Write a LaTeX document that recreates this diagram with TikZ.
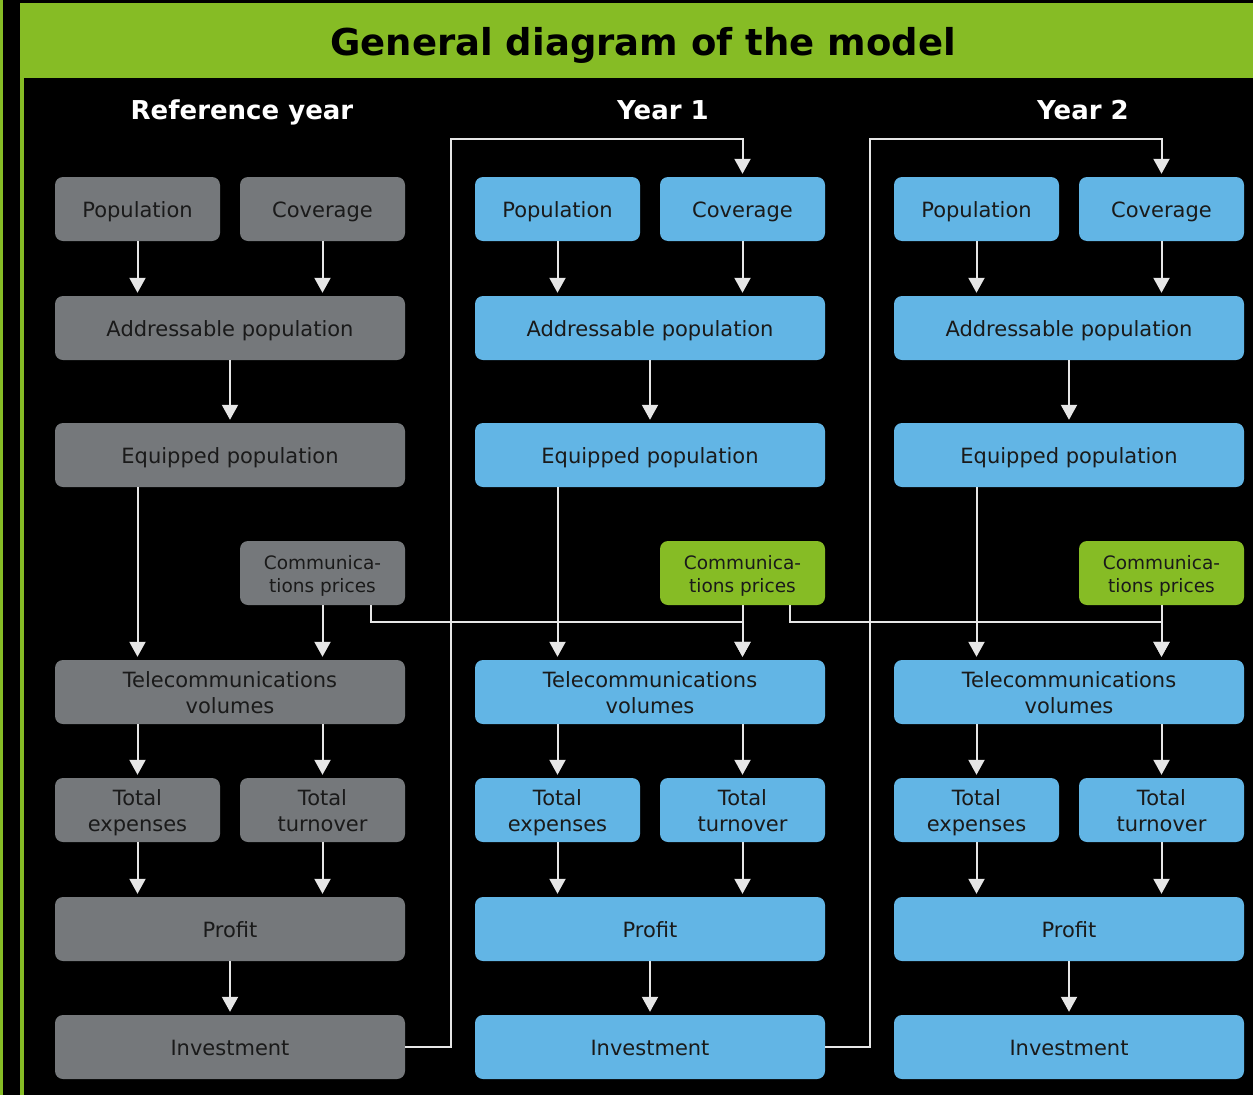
\documentclass[tikz,border=0pt]{standalone}
\usepackage{fontspec}
\setmainfont{DejaVu Sans}
\usetikzlibrary{arrows.meta,calc}
\definecolor{bggreen}{HTML}{86BC25}
\definecolor{boxgray}{HTML}{75787B}
\definecolor{boxblue}{HTML}{62B5E5}
\definecolor{linecol}{HTML}{E6E6E6}
\definecolor{txt}{HTML}{1A1A1A}
\newcommand\mystrutA{\rule[-6pt]{0pt}{29pt}}
\newcommand\topA{\rule{0pt}{22pt}}
\newcommand\botA{\rule[-6pt]{0pt}{6pt}}
\newcommand\topB{\rule{0pt}{21pt}}
\newcommand\botB{\rule[-5pt]{0pt}{5pt}}
\begin{document}
\begin{tikzpicture}[x=1pt,y=-1pt,
  box/.style={rounded corners=8pt, inner sep=0pt, align=center, text=txt,
    font=\fontsize{21}{26}\selectfont, minimum height=64pt,
    execute at begin node=\mystrutA, execute at end node=\mystrutA},
  twoline/.style={execute at begin node={}, execute at end node={}},
  smallbox/.style={box, minimum width=165pt},
  widebox/.style={box, minimum width=350pt},
  commbox/.style={smallbox, twoline, font=\fontsize{18.5}{23}\selectfont},
  arr/.style={draw=linecol, line width=2pt, -{Triangle[width=16pt,length=15pt]}, shorten >=3pt},
  hdr/.style={anchor=base, text=white, font=\bfseries\fontsize{26}{30}\selectfont},
]
\useasboundingbox (0,0) rectangle (1253,1095);
\fill[black] (0,0) rectangle (1253,1095);
\fill[bggreen] (0,0) rectangle (3,1095);
\fill[bggreen] (20,3) rectangle (1253,78);
\fill[bggreen] (20,78) rectangle (24,1095);
\node[anchor=base, text=black, font=\bfseries\fontsize{37}{40}\selectfont] (title) at (643,55) {General diagram of the model};
\node[hdr] (h1) at (242,119) {Reference year};
\node[hdr] (h2) at (663,119) {Year 1};
\node[hdr] (h3) at (1083,119) {Year 2};

\foreach \i/\x/\fc/\cc in {1/55/boxgray/boxgray, 2/475/boxblue/bggreen, 3/894/boxblue/bggreen} {
  \node[smallbox, fill=\fc] (pop\i) at ({\x+82.5},209) {Population};
  \node[smallbox, fill=\fc] (cov\i) at ({\x+267.5},209) {Coverage};
  \node[widebox, fill=\fc] (addr\i) at ({\x+175},328) {Addressable population};
  \node[widebox, fill=\fc] (equip\i) at ({\x+175},455) {Equipped population};
  \node[commbox, fill=\cc] (comm\i) at ({\x+267.5},573) {\topB Communica-\\tions prices\botB};
  \node[widebox, twoline, fill=\fc] (tele\i) at ({\x+175},692) {\topA Telecommunications\\volumes\botA};
  \node[smallbox, twoline, fill=\fc] (texp\i) at ({\x+82.5},810) {\topA Total\\expenses\botA};
  \node[smallbox, twoline, fill=\fc] (tturn\i) at ({\x+267.5},810) {\topA Total\\turnover\botA};
  \node[widebox, fill=\fc] (profit\i) at ({\x+175},929) {Profit};
  \node[widebox, fill=\fc] (invest\i) at ({\x+175},1047) {Investment};
  \draw[arr] (pop\i.south) -- (pop\i.south |- addr\i.north);
  \draw[arr] (cov\i.south) -- (cov\i.south |- addr\i.north);
  \draw[arr] (addr\i.south) -- (equip\i.north);
  \draw[arr] (pop\i.south |- equip\i.south) -- (pop\i.south |- tele\i.north);
  \draw[arr] (comm\i.south) -- (comm\i.south |- tele\i.north);
  \draw[arr] (pop\i.south |- tele\i.south) -- (texp\i.north);
  \draw[arr] (cov\i.south |- tele\i.south) -- (tturn\i.north);
  \draw[arr] (texp\i.south) -- (texp\i.south |- profit\i.north);
  \draw[arr] (tturn\i.south) -- (tturn\i.south |- profit\i.north);
  \draw[arr] (profit\i.south) -- (invest\i.north);
}
\coordinate (k1) at (371,622);
\coordinate (k2) at (790,622);
\coordinate (l1) at (451,139);
\coordinate (l2) at (870,139);
\draw[arr] (comm1.south -| k1) -- (k1) -| (cov2.south |- tele2.north);
\draw[arr] (comm2.south -| k2) -- (k2) -| (cov3.south |- tele3.north);
\draw[arr] (invest1.east) -| (l1) -| (cov2.north);
\draw[arr] (invest2.east) -| (l2) -| (cov3.north);
\end{tikzpicture}
\end{document}
